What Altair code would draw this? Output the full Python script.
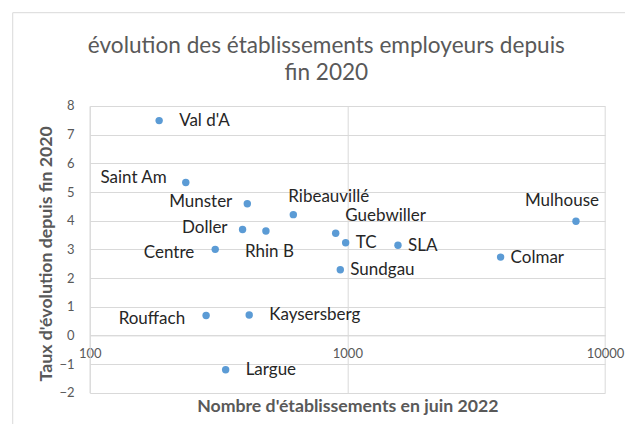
import altair as alt
import pandas as pd

# Données
noms = ["Val d'A", "Saint Am", "Munster", "Ribeauvillé", "Doller", "Rhin B",
        "Guebwiller", "TC", "Centre", "Sundgau", "SLA", "Colmar", "Mulhouse",
        "Rouffach", "Kaysersberg", "Largue"]
etablissements = [186, 236, 409, 617, 392, 483, 901, 985, 307, 939, 1572, 3934,
                  7715, 283, 416, 337]
taux = [7.49, 5.33, 4.59, 4.21, 3.69, 3.64, 3.56, 3.23, 3.0, 2.29, 3.14, 2.73,
        3.98, 0.69, 0.71, -1.2]
placement = ["r2", "lh", "l", "t1", "l", "b", "t2", "r", "lb", "r", "r", "r",
             "t3", "lb", "r2", "r2"]

x_ticks = [100, 1000, 10000]
y_ticks = [-2, -1, 0, 1, 2, 3, 4, 5, 6, 7, 8]

df = pd.DataFrame({"nom": noms, "etab": etablissements, "taux": taux,
                   "pos": placement})

FONT = "Lato"
GREY = "#595959"
GRID = "#d9d9d9"
W, H = 515.3, 286.7

x_scale = alt.Scale(type="log", domain=[100, 10000], nice=False)
y_scale = alt.Scale(domain=[-2, 8], nice=False, zero=False)

x_axis = alt.Axis(
    values=x_ticks, format="d", ticks=False, grid=True, gridColor=GRID,
    domain=True, domainColor=GRID, labelFont=FONT, labelFontSize=13,
    labelColor=GREY, labelFlush=False, labelOverlap=False,
    labelBaseline="middle", labelPadding=18, offset=-57.3,
    title="Nombre d'établissements en juin 2022", titleFont=FONT,
    titleFontSize=17.7, titleFontWeight="bold", titleColor=GREY,
    titleX=W / 2, titleY=71.6, titleBaseline="middle")
y_axis = alt.Axis(
    values=y_ticks, tickCount=11, ticks=False, grid=True, gridColor=GRID,
    domain=True, domainColor=GRID, labelFont=FONT, labelFontSize=13,
    labelColor=GREY, labelOverlap=False, labelFlush=False,
    labelPadding=15.7, title="Taux d'évolution depuis fin 2020",
    titleFont=FONT, titleFontSize=17.7, titleFontWeight="bold",
    titleColor=GREY, titleX=-43, titleY=H / 2 + 4, titleBaseline="middle",
    titleAngle=-90)


def xe():
    return alt.X("etab:Q", scale=x_scale, axis=x_axis)


def ye():
    return alt.Y("taux:Q", scale=y_scale, axis=y_axis)


base = alt.Chart(df)

points = base.mark_circle(size=55, color="#5b9bd5", opacity=1).encode(
    x=xe(), y=ye())

styles = {
    "r": dict(align="left", dx=10, dy=0.5),
    "r2": dict(align="left", dx=20, dy=0.5),
    "l": dict(align="right", dx=-15, dy=-1.5),
    "lh": dict(align="right", dx=-19, dy=-4.5),
    "lb": dict(align="right", dx=-21, dy=3.5),
    "t1": dict(align="left", dx=-5, dy=-17.4),
    "t2": dict(align="left", dx=9.6, dy=-17.3),
    "t3": dict(align="right", dx=23, dy=-20.6),
    "b": dict(align="center", dx=3.5, dy=21),
}

labels = []
for key, st in styles.items():
    labels.append(
        base.transform_filter(alt.datum.pos == key)
        .mark_text(font=FONT, fontSize=17, color="#262626",
                   baseline="middle", **st)
        .encode(x=xe(), y=ye(), text="nom:N"))

border = alt.Chart(alt.Data(values=[{}])).mark_rect(
    fill="transparent", stroke=GRID, strokeWidth=1).encode(
    x=alt.value(-77), y=alt.value(-93.3), x2=alt.value(700),
    y2=alt.value(500))

chart = alt.layer(border, points, *labels).properties(
    width=W, height=H,
    title=alt.TitleParams(
        text=["évolution des établissements employeurs depuis", "fin 2020"],
        font=FONT, fontSize=22.6, fontWeight="normal", color=GREY,
        anchor="middle", frame="group", dx=-21, baseline="alphabetic",
        offset=0, dy=90.5, lineHeight=26.7),
    autosize=alt.AutoSizeParams(type="none"),
    padding={"left": 81.7, "top": 98, "right": 20, "bottom": 31},
).configure_view(stroke=None)

chart.save("out.html", embed_options={"renderer": "svg", "actions": False})
